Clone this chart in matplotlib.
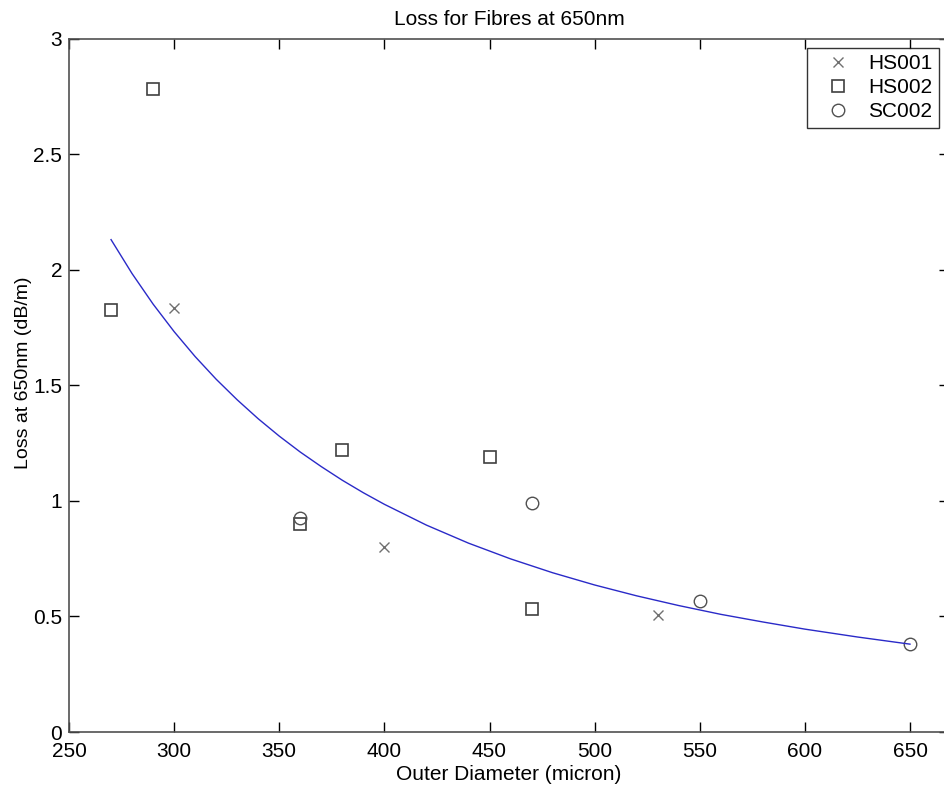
import matplotlib.pyplot as plt

plt.rcParams['font.family'] = ['Liberation Sans', 'DejaVu Sans']

# measured points per fibre batch
hs001_d = [300, 400, 530]
hs001_loss = [1.835, 0.80, 0.505]

hs002_d = [270, 290, 360, 380, 450, 470]
hs002_loss = [1.825, 2.78, 0.90, 1.22, 1.19, 0.53]

sc002_d = [360, 470, 550, 650]
sc002_loss = [0.925, 0.99, 0.565, 0.38]

# fitted trend line
fit_d = [270, 280, 290, 300, 310, 320, 330, 340, 350, 360, 370, 380, 390, 400,
         420, 440, 460, 480, 500, 520, 540, 560, 580, 600, 625, 650]
fit_loss = [2.13, 1.983, 1.851, 1.732, 1.624, 1.526, 1.437, 1.355, 1.280, 1.211,
            1.148, 1.089, 1.035, 0.985, 0.895, 0.817, 0.749, 0.689, 0.636,
            0.589, 0.547, 0.509, 0.476, 0.445, 0.411, 0.380]

fig = plt.figure(figsize=(9.44, 7.91), dpi=100)
# axes runs a little past the right edge, as in the cropped original
ax_w = 880
ax = fig.add_axes([69 / 944, 59 / 791, ax_w / 944, 693.5 / 791])

ax.plot(hs001_d, hs001_loss, linestyle='none', marker='x', ms=7, mew=1.0,
        color='#707070', label='HS001')
ax.plot(hs002_d, hs002_loss, linestyle='none', marker='s', ms=8, mew=1.2,
        mfc='none', mec='#404040', label='HS002')
ax.plot(sc002_d, sc002_loss, linestyle='none', marker='o', ms=9, mew=1.0,
        mfc='none', mec='#505050', label='SC002')
ax.plot(fit_d, fit_loss, color='#2a2ac8', lw=1.0)

ax.set_xlim(250, 250 + ax_w / 2.1025)
ax.set_ylim(0, 3)
ax.set_xticks(range(250, 651, 50))
ax.set_yticks([0, 0.5, 1, 1.5, 2, 2.5, 3])
ax.set_yticklabels(['0', '0.5', '1', '1.5', '2', '2.5', '3'])

ax.tick_params(direction='in', length=7, width=1, top=True, right=True,
               labelsize=15, colors='black')
ax.tick_params(axis='x', pad=7)
ax.tick_params(axis='y', pad=5)
for s in ax.spines.values():
    s.set_color('#505050')
    s.set_linewidth(1.2)

ax.set_title('Loss for Fibres at 650nm', fontsize=15, pad=10)
ax.set_xlabel('Outer Diameter (micron)', fontsize=15, labelpad=3)
ax.set_ylabel('Loss at 650nm (dB/m)', fontsize=14)
ax.yaxis.set_label_coords(-37 / ax_w, 0.518)

leg = fig.legend(loc='upper left', bbox_to_anchor=(807 / 944, 1 - 48 / 791),
                 fontsize=15, frameon=True, fancybox=False, edgecolor='black',
                 borderpad=0.3, labelspacing=0.24, handletextpad=0.25,
                 handlelength=2.4, borderaxespad=0)
leg.get_frame().set_linewidth(1.0)

plt.savefig('out.png', dpi=100)
